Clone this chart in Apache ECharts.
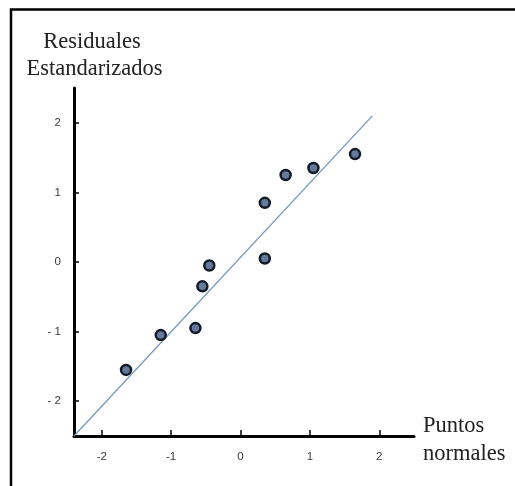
<!DOCTYPE html>
<html>
<head>
<meta charset="utf-8">
<script src="https://cdn.jsdelivr.net/npm/echarts@6/dist/echarts.min.js"></script>
<style>
  html, body { margin: 0; padding: 0; background: #fff; }
  #chart { width: 515px; height: 486px; }
</style>
</head>
<body>
<div id="chart"></div>
<script>
// Normal probability plot of standardized residuals
const normalScores = [-1.65, -1.15, -0.65, -0.55, -0.45, 0.35, 0.35, 0.65, 1.05, 1.65];
const stdResiduals = [-1.55, -1.05, -0.95, -0.35, -0.05, 0.05, 0.85, 1.25, 1.35, 1.55];
// Reference line end points (x, y)
const refLineX = [-2.4, 1.9];
const refLineY = [-2.5, 2.1];
const xTicks = [-2, -1, 0, 1, 2];
const yTicks = [-2, -1, 0, 1, 2];

const points = normalScores.map((x, i) => [x, stdResiduals[i]]);
const refLine = refLineX.map((x, i) => [x, refLineY[i]]);

const chart = echarts.init(document.getElementById('chart'), null, { renderer: 'canvas' });

const tickFont = { fontFamily: 'Liberation Sans, Arial, sans-serif', fontSize: 11.5, color: '#3a3a3a' };
const titleFont = { fontFamily: 'Liberation Serif, Times New Roman, serif', fontSize: 22.5, fill: '#222' };

chart.setOption({
  animation: false,
  backgroundColor: '#ffffff',
  grid: { left: 74, top: 88, width: 340, height: 348 },
  xAxis: {
    type: 'value', min: -2.4, max: 2.5,
    splitLine: { show: false },
    axisLine: { show: true, onZero: false, lineStyle: { color: '#000', width: 3 } },
    axisTick: { show: true, inside: true, length: 6, customValues: xTicks, lineStyle: { color: '#000', width: 1.5 } },
    axisLabel: { show: true, margin: 15, customValues: xTicks, ...tickFont, formatter: v => String(v) }
  },
  yAxis: {
    type: 'value', min: -2.5, max: 2.5,
    splitLine: { show: false },
    axisLine: { show: true, onZero: false, lineStyle: { color: '#000', width: 3 } },
    axisTick: { show: true, inside: true, length: 5, customValues: yTicks, lineStyle: { color: '#000', width: 1.5 } },
    axisLabel: { show: true, margin: 13, customValues: yTicks, ...tickFont,
      formatter: v => (v < 0 ? '- ' + Math.abs(v) : String(v)) }
  },
  graphic: [
    { type: 'polyline', silent: true,
      shape: { points: [[11, 486], [11, 9.5], [515, 9.5]] },
      style: { stroke: '#000', lineWidth: 2.5, fill: null } },
    { type: 'text', x: 92, y: 42,
      style: { text: 'Residuales', ...titleFont, align: 'center', verticalAlign: 'middle' } },
    { type: 'text', x: 94.5, y: 69,
      style: { text: 'Estandarizados', ...titleFont, align: 'center', verticalAlign: 'middle' } },
    { type: 'text', x: 423, y: 426,
      style: { text: 'Puntos', ...titleFont, align: 'left', verticalAlign: 'middle' } },
    { type: 'text', x: 423, y: 454,
      style: { text: 'normales', ...titleFont, align: 'left', verticalAlign: 'middle' } }
  ],
  series: [
    {
      type: 'line', data: refLine, showSymbol: false, silent: true,
      lineStyle: { color: '#7396bf', width: 1.3 }, z: 1
    },
    {
      type: 'scatter', data: points, symbol: 'circle', symbolSize: 10,
      itemStyle: { color: '#637a9c', borderColor: '#151a28', borderWidth: 2.5, opacity: 1 }, z: 2
    }
  ]
});
</script>
</body>
</html>
